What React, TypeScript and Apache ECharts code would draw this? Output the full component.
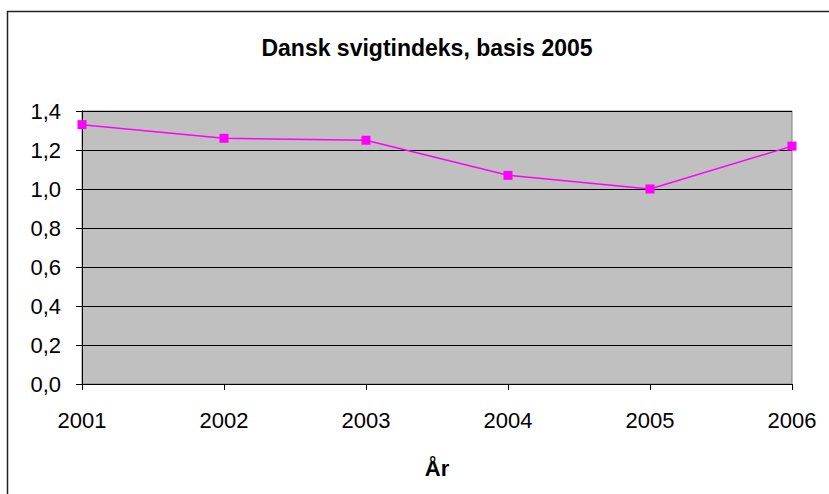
import React, { useEffect, useRef } from "react";
import * as echarts from "echarts";

const years = ["2001", "2002", "2003", "2004", "2005", "2006"];
const indexValues = [1.33, 1.26, 1.25, 1.07, 1.0, 1.22];
const titleText = "Dansk svigtindeks, basis 2005";
const xAxisName = "År";

export default function App() {
  const ref = useRef<HTMLDivElement>(null);
  useEffect(() => {
    if (!ref.current) return;
    const chart = echarts.init(ref.current, null, { renderer: "svg" });
    const font = "Liberation Sans, Arial, sans-serif";
    chart.setOption({
      animation: false,
      backgroundColor: "#ffffff",
      title: {
        text: titleText,
        left: 422,
        top: 31,
        textAlign: "center",
        textStyle: { fontFamily: font, fontSize: 23, fontWeight: "bold", color: "#000" },
      },
      graphic: [
        {
          type: "rect",
          shape: { x: 7.5, y: 11.5, width: 900, height: 600 },
          style: { fill: "none", stroke: "#222", lineWidth: 1.5 },
          silent: true,
          z: 100,
        },
      ],
      grid: {
        left: 82,
        right: 37,
        top: 111,
        bottom: 110,
        show: true,
        backgroundColor: "#C0C0C0",
        borderColor: "#808080",
        borderWidth: 1,
      },
      xAxis: {
        type: "category",
        data: years,
        boundaryGap: false,
        name: xAxisName,
        nameLocation: "middle",
        nameGap: 73,
        nameTextStyle: { fontFamily: font, fontSize: 22, fontWeight: "bold", color: "#000", verticalAlign: "top" },
        axisLine: { show: true, lineStyle: { color: "#000", width: 1 } },
        axisTick: { show: true, length: 6, interval: 0, lineStyle: { color: "#000" } },
        axisLabel: { margin: 25, fontFamily: font, fontSize: 22, color: "#000", interval: 0 },
        splitLine: { show: false },
      },
      yAxis: {
        type: "value",
        min: 0,
        max: 1.4,
        interval: 0.2,
        axisLine: { show: true, lineStyle: { color: "#000", width: 1 } },
        axisTick: { show: true, length: 6, lineStyle: { color: "#000" } },
        axisLabel: {
          margin: 21,
          fontFamily: font,
          fontSize: 22,
          color: "#000",
          formatter: (v: number) => v.toFixed(1).replace(".", ","),
        },
        splitLine: { show: true, lineStyle: { color: "#000", width: 1 } },
      },
      series: [
        {
          type: "line",
          data: indexValues,
          symbol: "rect",
          symbolSize: 9,
          itemStyle: { color: "#FF00FF" },
          lineStyle: { color: "#FF00FF", width: 1.5 },
        },
      ],
    });
    return () => chart.dispose();
  }, []);
  return (
    <div
      ref={ref}
      style={{ position: "absolute", left: 0, top: 0, width: 829, height: 494 }}
    />
  );
}
